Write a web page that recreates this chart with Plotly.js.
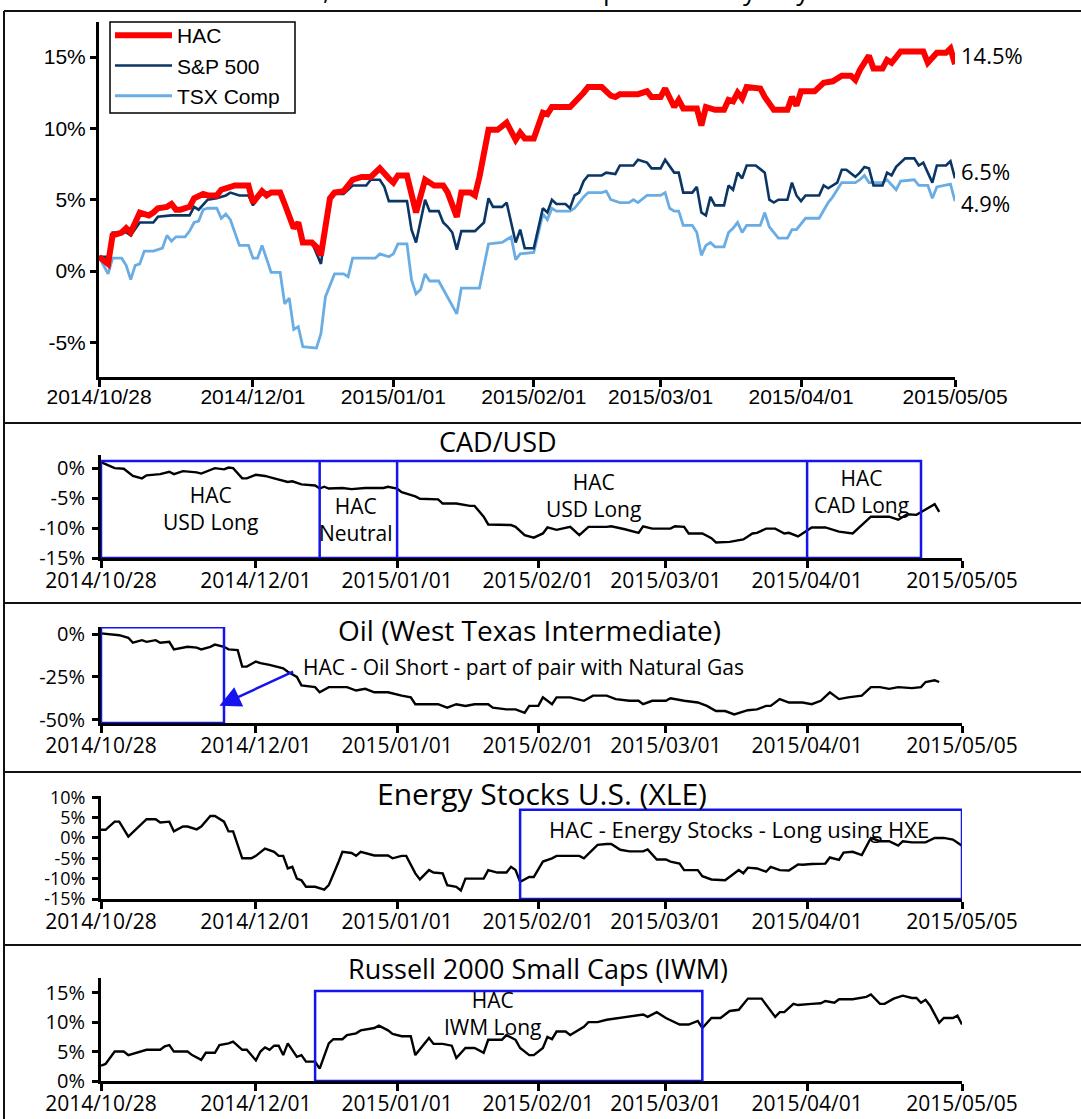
<!DOCTYPE html>
<html><head><meta charset="utf-8">
<script src="https://cdn.plot.ly/plotly-3.0.1.min.js"></script>
<style>html,body{margin:0;padding:0;background:#fff}#chart{width:1081px;height:1119px}</style>
</head><body><div id="chart"></div>
<script>
// ---- data (x = trading day offset from 2014-10-28, y = % change) ----
const startDate = '2014-10-28';
const endDate = '2015-05-05';
const tickDates = ['2014-10-28','2014-12-01','2015-01-01','2015-02-01','2015-03-01','2015-04-01','2015-05-05'];
const tickLabels = ['2014/10/28','2014/12/01','2015/01/01','2015/02/01','2015/03/01','2015/04/01','2015/05/05'];

const seriesNames = ['HAC','S&P 500','TSX Comp'];
const endLabels = ['14.5%','6.5%','4.9%'];

const hacPts = [[0,1.0],[2,0.5],[3,2.5],[5,2.7],[6,3.0],[7,2.7],[9,4.1],[11,3.9],[12,4.1],[13,4.4],[15,4.5],[16,4.7],[17,4.3],[18,4.3],[20,4.5],[21,5.1],[23,5.4],[24,5.3],[26,5.3],[27,5.7],[28,5.8],[30,6.0],[33,6.0],[34,4.8],[36,5.6],[37,5.3],[38,5.5],[40,5.5],[41,4.7],[43,3.0],[44,3.4],[45,2.0],[47,2.0],[48,1.7],[49,1.1],[51,5.1],[52,5.5],[54,5.6],[56,6.4],[58,6.6],[60,6.6],[62,7.2],[64,6.5],[65,6.2],[66,6.7],[68,6.7],[70,4.1],[72,6.4],[74,6.0],[76,6.0],[77,5.5],[79,3.8],[80,5.5],[82,5.5],[83,5.3],[84,6.6],[86,9.9],[88,9.9],[90,10.4],[92,9.2],[93,9.7],[94,9.3],[96,9.3],[98,11.1],[99,11.0],[100,11.5],[104,11.5],[106,12.1],[107,12.5],[108,12.9],[111,12.9],[113,12.3],[114,12.2],[115,12.4],[119,12.4],[121,12.6],[122,12.2],[124,12.2],[125,12.8],[127,11.5],[128,12.0],[129,11.4],[132,11.4],[133,10.2],[134,11.5],[136,11.3],[138,11.3],[139,12.0],[140,11.9],[141,12.5],[142,12.1],[143,12.9],[146,12.8],[147,12.2],[149,11.3],[152,11.3],[153,12.2],[154,11.6],[155,12.6],[158,12.6],[160,13.2],[162,13.3],[164,13.7],[166,13.7],[167,13.4],[168,14.1],[170,15.1],[171,14.2],[173,14.2],[174,14.8],[175,14.6],[177,15.4],[180,15.4],[181,15.3],[182,15.4],[183,14.6],[185,15.3],[187,15.3],[188,15.6],[189,14.5]];

const spPts = [[0,1.0],[2,1.0],[3,2.7],[6,2.7],[7,2.5],[9,3.4],[12,3.4],[13,3.8],[16,3.9],[20,3.9],[21,4.5],[22,4.3],[24,5.0],[26,5.1],[28,5.3],[29,5.5],[31,5.3],[33,5.3],[34,4.6],[36,5.6],[37,5.5],[40,5.6],[41,4.6],[43,3.1],[44,3.4],[45,2.0],[47,2.0],[49,0.5],[51,5.0],[52,5.4],[54,5.4],[56,6.0],[59,6.0],[60,6.4],[62,6.4],[63,5.9],[64,4.9],[68,4.9],[69,2.9],[70,2.0],[72,5.0],[73,4.2],[75,4.2],[76,3.4],[77,3.1],[78,2.7],[79,1.5],[80,2.8],[83,2.8],[85,3.4],[86,5.1],[87,4.5],[89,4.5],[90,4.8],[92,2.0],[93,2.9],[94,1.6],[96,1.6],[98,4.4],[99,4.1],[100,5.0],[101,4.7],[103,4.7],[104,4.4],[105,5.3],[106,5.5],[107,6.3],[108,6.7],[111,6.7],[112,6.9],[114,6.8],[115,7.4],[118,7.4],[119,7.8],[121,7.6],[122,7.2],[124,7.2],[125,7.8],[127,6.9],[128,6.9],[129,5.5],[131,5.5],[132,5.9],[133,4.1],[134,3.9],[135,5.2],[136,4.6],[138,4.6],[139,6.0],[140,5.7],[141,6.9],[142,6.5],[143,7.4],[145,7.4],[147,6.9],[148,5.0],[149,4.8],[150,5.0],[152,5.0],[153,6.2],[154,5.3],[155,4.9],[156,5.3],[159,5.3],[160,6.0],[161,5.8],[163,6.2],[164,7.1],[165,7.1],[167,6.6],[168,6.9],[169,7.3],[170,7.2],[171,6.0],[173,6.0],[174,6.9],[175,6.7],[176,7.3],[178,7.9],[180,7.9],[181,7.4],[182,7.6],[184,6.2],[185,7.4],[187,7.4],[188,7.7],[189,6.5]];

const tsxPts = [[0,1.0],[2,-0.2],[3,0.9],[5,0.9],[6,0.4],[7,-0.6],[8,0.4],[9,0.5],[10,1.4],[12,1.4],[14,1.6],[15,2.5],[16,2.1],[17,2.4],[19,2.4],[20,2.8],[21,3.4],[22,3.5],[23,4.3],[24,4.4],[26,4.4],[27,3.7],[28,4.0],[29,3.6],[31,1.8],[33,1.8],[34,0.9],[35,0.9],[36,1.8],[38,-0.1],[40,-0.1],[41,-2.3],[42,-1.9],[43,-4.1],[44,-3.9],[45,-5.3],[48,-5.4],[49,-4.4],[50,-1.8],[52,-0.2],[54,-0.2],[55,-0.4],[56,0.9],[61,0.9],[62,1.2],[64,1.0],[65,1.2],[66,1.9],[68,1.9],[69,-0.6],[70,-1.6],[71,-1.3],[72,-0.2],[73,-0.7],[75,-0.7],[76,-1.3],[77,-1.8],[79,-3.0],[80,-1.2],[84,-1.2],[86,1.9],[89,2.0],[91,2.4],[92,0.8],[93,1.2],[96,1.3],[98,4.0],[99,3.6],[100,4.4],[101,4.2],[104,4.2],[105,4.4],[107,5.2],[108,5.5],[111,5.5],[112,5.6],[113,5.0],[115,4.8],[117,4.8],[118,5.0],[119,4.8],[121,5.3],[124,5.3],[125,5.5],[126,4.4],[127,4.2],[128,4.2],[129,3.2],[131,3.2],[132,2.7],[133,1.1],[134,1.8],[135,2.0],[136,1.7],[138,1.7],[139,2.7],[140,3.0],[141,3.4],[142,2.7],[143,3.2],[146,3.2],[147,4.1],[148,3.1],[150,2.3],[152,2.3],[153,2.9],[154,2.9],[156,3.7],[159,3.7],[161,4.8],[162,5.2],[164,6.2],[167,6.2],[168,6.4],[169,6.7],[170,6.2],[173,6.2],[174,6.4],[176,5.7],[177,6.3],[180,6.4],[181,6.0],[183,6.0],[184,5.1],[185,5.9],[187,6.0],[188,6.1],[189,4.9]];

const cadPts = [[0,1.0],[3,0.0],[5,-0.1],[7,-1.3],[9,-1.7],[10,-1.2],[13,-1.0],[15,-0.6],[16,-1.0],[18,-0.5],[21,-0.7],[22,-0.9],[25,0.0],[27,-0.2],[28,0.1],[29,0.0],[31,-1.7],[32,-1.7],[34,-1.1],[36,-1.3],[38,-1.7],[39,-1.9],[41,-2.3],[42,-2.2],[44,-2.7],[47,-2.9],[48,-3.4],[49,-3.1],[50,-3.4],[53,-3.3],[55,-3.5],[58,-3.3],[62,-3.3],[63,-3.1],[65,-3.4],[66,-4.0],[69,-4.7],[70,-5.1],[72,-5.2],[74,-5.2],[75,-5.9],[78,-5.9],[81,-6.3],[82,-6.3],[84,-8.1],[85,-9.4],[90,-9.5],[91,-9.8],[93,-11.2],[95,-11.6],[97,-10.9],[98,-9.9],[100,-10.3],[101,-10.1],[103,-9.8],[105,-11.2],[107,-9.8],[111,-9.8],[112,-9.7],[115,-10.2],[118,-10.8],[119,-9.7],[121,-10.1],[125,-10.1],[126,-9.7],[128,-9.8],[129,-10.9],[132,-10.9],[134,-11.7],[135,-12.4],[138,-12.3],[141,-11.9],[143,-10.9],[144,-10.8],[146,-10.1],[148,-10.1],[150,-10.9],[151,-10.8],[153,-11.4],[154,-10.9],[156,-9.9],[159,-9.9],[162,-10.6],[165,-10.9],[167,-9.5],[169,-8.1],[173,-8.1],[175,-8.6],[177,-7.7],[179,-7.8],[181,-6.9],[183,-6.0],[184,-7.3]];

const oilPts = [[0,0.5],[2,0],[4,-0.6],[6,-2.1],[7,-5],[9,-3.5],[10,-4.5],[12,-3.5],[13,-5],[15,-4.5],[16,-8.9],[19,-7.4],[21,-7.9],[22,-8.9],[24,-7.4],[25,-6.1],[27,-7.4],[28,-8.9],[30,-9.3],[31,-19],[32,-19],[34,-16],[35,-17],[37,-18],[38,-18.6],[40,-20],[41,-22],[43,-25],[44,-30],[47,-31],[48,-34],[50,-31],[52,-31],[54,-31],[56,-33],[58,-32],[60,-34],[63,-34],[66,-36],[68,-37],[69,-41],[72,-41],[74,-41],[76,-43],[78,-41],[80,-42],[82,-41],[85,-41],[86,-43],[89,-44],[91,-44],[93,-46],[94,-42],[96,-42],[97,-37],[99,-41],[100,-37],[103,-37],[106,-39],[108,-36],[111,-36],[113,-38],[116,-39],[118,-39],[119,-41],[121,-39],[124,-39],[125,-37.5],[128,-39],[131,-40],[133,-42],[135,-45],[137,-45],[139,-47],[142,-44.5],[144,-44],[146,-42],[147,-42],[149,-38],[151,-40],[154,-40],[156,-41],[158,-39],[160,-34],[162,-38],[164,-37],[167,-36],[169,-31],[171,-31],[173,-32],[175,-31],[178,-31.6],[180,-31],[181,-28],[183,-27],[184,-28]];

const xlePts = [[0,2.0],[1,2.0],[3,4.0],[4,4.0],[6,0.3],[8,2.4],[10,4.6],[12,4.6],[13,3.8],[15,4.0],[16,1.6],[18,2.8],[19,2.8],[21,2.1],[22,2.8],[24,5.4],[25,5.4],[27,4.0],[28,1.6],[29,1.6],[31,-5.0],[33,-5.0],[34,-4.4],[36,-2.6],[38,-3.4],[39,-4.4],[40,-4.4],[41,-7.5],[42,-7.1],[43,-10],[44,-10.4],[45,-12],[47,-12],[49,-12.7],[50,-11.6],[52,-6.3],[53,-3.4],[55,-3.7],[56,-4.4],[57,-3.4],[59,-4.0],[60,-4.3],[63,-4.3],[64,-5.0],[66,-4.4],[67,-4.4],[69,-8.7],[70,-10.2],[72,-7.9],[73,-8.5],[75,-8.7],[76,-11.6],[78,-12.0],[79,-12.9],[80,-10],[82,-10],[84,-10],[85,-7.9],[87,-8.5],[89,-8.5],[90,-7.1],[91,-7.9],[92,-10.8],[94,-9.6],[95,-9.6],[97,-5.8],[99,-5.0],[100,-4.4],[102,-4.4],[105,-4.4],[106,-5.0],[109,-1.7],[111,-1.5],[112,-1.5],[114,-2.9],[116,-3.3],[119,-3.3],[120,-2.8],[122,-5.3],[124,-5.3],[125,-5.8],[127,-6.3],[128,-7.9],[131,-7.9],[132,-9.4],[134,-10.2],[137,-10.4],[138,-9.6],[140,-7.9],[141,-8.7],[142,-7.3],[144,-7.5],[146,-8.3],[147,-7.1],[149,-7.9],[151,-8.0],[153,-6.5],[154,-6.6],[156,-6.4],[159,-6.3],[160,-4.8],[162,-5.4],[163,-3.6],[165,-3.4],[167,-4.2],[169,0.0],[171,-0.8],[173,-0.8],[175,-1.9],[176,-0.8],[178,-1.1],[181,-1.1],[183,0.0],[185,0.0],[187,-0.4],[189,-1.9]];

const iwmPts = [[0,2.6],[1,2.9],[3,5.0],[5,5.0],[6,4.4],[9,5.0],[10,5.3],[13,5.3],[14,5.9],[15,6.1],[16,5.0],[19,5.0],[20,4.4],[22,3.6],[23,4.8],[25,4.8],[26,6.1],[28,6.4],[29,6.7],[31,5.3],[32,5.3],[34,3.5],[35,5.0],[36,5.7],[37,5.3],[38,6.0],[39,6.0],[40,4.4],[41,6.4],[43,4.1],[44,4.4],[45,3.3],[47,3.3],[48,2.1],[49,4.4],[50,6.4],[51,7.1],[53,7.1],[54,7.8],[56,8.1],[57,8.6],[59,8.8],[60,9.0],[61,9.4],[63,8.6],[64,8.0],[66,7.6],[68,7.6],[69,4.4],[72,7.3],[73,6.3],[75,6.3],[77,6.0],[78,3.9],[80,5.6],[82,5.6],[84,4.8],[85,7.0],[88,7.0],[89,7.8],[91,7.0],[92,5.6],[94,4.4],[95,4.4],[97,5.6],[98,7.5],[99,7.1],[100,8.4],[102,8.4],[103,7.8],[106,9.2],[107,10.0],[109,10.0],[111,10.4],[113,10.6],[116,10.9],[119,11.3],[120,10.9],[122,11.7],[124,10.7],[127,9.6],[129,9.6],[131,10.2],[132,9.0],[134,10.7],[136,10.7],[138,11.9],[140,12.1],[142,14.0],[145,14.0],[147,11.9],[148,10.9],[149,11.7],[150,11.7],[152,13.1],[153,12.9],[156,13.1],[158,13.2],[159,13.6],[161,13.3],[162,13.9],[165,13.9],[168,14.3],[169,14.7],[171,13.1],[172,13.1],[174,14.0],[176,14.5],[178,14.1],[179,14.1],[180,13.3],[181,13.8],[182,12.8],[184,9.9],[185,10.7],[187,10.7],[188,11.1],[189,9.6]];

// position periods (HAC calls)
const cadPeriodDates = ['2014-10-28','2014-12-15','2015-01-01','2015-04-01','2015-04-26'];
const cadPeriodLabels = ['HAC<br>USD Long','HAC<br>Neutral','HAC<br>USD Long','HAC<br>CAD Long'];
const oilPeriod = ['2014-10-28','2014-11-24'];
const oilLabel = 'HAC - Oil Short - part of pair with Natural Gas';
const xlePeriod = ['2015-01-28','2015-05-05'];
const xleLabel = 'HAC - Energy Stocks - Long using HXE';
const iwmPeriod = ['2014-12-14','2015-03-09'];
const iwmLabel = 'HAC<br>IWM Long';
const panelTitles = ['CAD/USD','Oil (West Texas Intermediate)','Energy Stocks U.S. (XLE)','Russell 2000 Small Caps (IWM)'];

// ---- helpers ----
const DAY = 86400000;
const t0 = Date.UTC(2014,9,28);
function dayToDate(n){ return new Date(t0 + n*DAY).toISOString().slice(0,10); }
function xs(p){ return p.map(a => dayToDate(a[0])); }
function ys(p){ return p.map(a => a[1]); }
const W = 1081, H = 1119;
const px = v => v / W;
const py = v => (H - v) / H;

const topFont = 'Liberation Sans, Arial, sans-serif';
const lowFont = 'Open Sans, sans-serif';
const RED = '#ff0000', NAVY = '#0b3564', LIGHT = '#6aade4', BLUE = '#1414f0';

const traces = [
  {x: xs(hacPts), y: ys(hacPts), name: seriesNames[0], mode:'lines', line:{color:RED, width:6}, xaxis:'x', yaxis:'y', legendrank:1},
  {x: xs(spPts), y: ys(spPts), name: seriesNames[1], mode:'lines', line:{color:NAVY, width:2.6}, xaxis:'x', yaxis:'y', legendrank:2},
  {x: xs(tsxPts), y: ys(tsxPts), name: seriesNames[2], mode:'lines', line:{color:LIGHT, width:2.8}, xaxis:'x', yaxis:'y', legendrank:3},
  {x: xs(cadPts), y: ys(cadPts), mode:'lines', line:{color:'#000', width:2.4}, xaxis:'x2', yaxis:'y2', showlegend:false},
  {x: xs(oilPts), y: ys(oilPts), mode:'lines', line:{color:'#000', width:2.4}, xaxis:'x3', yaxis:'y3', showlegend:false},
  {x: xs(xlePts), y: ys(xlePts), mode:'lines', line:{color:'#000', width:2.4}, xaxis:'x4', yaxis:'y4', showlegend:false},
  {x: xs(iwmPts), y: ys(iwmPts), mode:'lines', line:{color:'#000', width:2.4}, xaxis:'x5', yaxis:'y5', showlegend:false}
];
const ordered = [traces[2], traces[1], traces[0], traces[3], traces[4], traces[5], traces[6]];

function xax(domain, anchor, font, fs, standoff){
  return {domain: domain, anchor: anchor, type:'date', range:[startDate, endDate],
    tickvals: tickDates, ticktext: tickLabels, showline:true, linewidth:3, linecolor:'#000',
    ticks:'outside', ticklen:7, tickwidth:3, tickcolor:'#000', showgrid:false, zeroline:false,
    ticklabelstandoff: standoff,
    tickfont:{family:font, size:fs, color:'#000'}, fixedrange:true};
}
function yax(domain, anchor, range, vals, font, fs, standoff){
  return {domain: domain, anchor: anchor, range: range, tickvals: vals, ticktext: vals.map(v => v + '%'),
    showline:true, linewidth:3, linecolor:'#000', ticks:'outside', ticklen:6, tickwidth:3, tickcolor:'#000',
    ticklabelstandoff: standoff,
    showgrid:false, zeroline:false, tickfont:{family:font, size:fs, color:'#000'}, fixedrange:true};
}

const topX = [px(99), px(955)];
const lowX = [px(101), px(962)];

const layout = {
  width: W, height: H, margin:{l:0,r:0,t:0,b:0}, paper_bgcolor:'#fff', plot_bgcolor:'rgba(0,0,0,0)',
  showlegend:true,
  legend:{x:px(110), y:py(15), xanchor:'left', yanchor:'top', bgcolor:'rgba(0,0,0,0)', borderwidth:0,
    font:{family:topFont, size:21, color:'#000'}, itemwidth:57, tracegroupgap:0, traceorder:'normal'},
  xaxis: xax(topX, 'y', topFont, 21, -8),
  yaxis: yax([py(377), py(22)], 'x', [-7.43, 17.46], [-5,0,5,10,15], topFont, 21, 0),
  xaxis2: xax(lowX, 'y2', lowFont, 21, -5),
  yaxis2: yax([py(558), py(455)], 'x2', [-15, 2.2], [0,-5,-10,-15], lowFont, 20, 3),
  xaxis3: xax(lowX, 'y3', lowFont, 21, -5),
  yaxis3: yax([py(723), py(627)], 'x3', [-52, 4.2], [0,-25,-50], lowFont, 20, 3),
  xaxis4: xax(lowX, 'y4', lowFont, 21, -5),
  yaxis4: yax([py(899), py(796)], 'x4', [-15, 10.3], [10,5,0,-5,-10,-15], lowFont, 18, 3),
  xaxis5: xax(lowX, 'y5', lowFont, 21, -5),
  yaxis5: yax([py(1081), py(978)], 'x5', [0, 17.5], [15,10,5,0], lowFont, 20, 3),
  shapes: [], annotations: []
};

// frame lines between panels
[11, 423, 603, 772, 945].forEach(v => layout.shapes.push({type:'line', xref:'paper', yref:'paper',
  x0:px(4), x1:1, y0:py(v), y1:py(v), line:{color:'#111', width:2}}));
layout.shapes.push({type:'line', xref:'paper', yref:'paper', x0:px(4), x1:px(4), y0:0, y1:py(11), line:{color:'#111', width:2}});
// legend frame
layout.shapes.push({type:'rect', xref:'paper', yref:'paper', x0:px(110), x1:px(295), y0:py(113), y1:py(22),
  fillcolor:'#fff', line:{color:'#000', width:1.5}, layer:'above'});

// period boxes
const boxLine = {color:BLUE, width:2.5};
layout.shapes.push({type:'rect', xref:'x2', yref:'y2', x0:cadPeriodDates[0], x1:cadPeriodDates[4], y0:-15, y1:1.2, line:boxLine});
[1,2,3].forEach(i => layout.shapes.push({type:'line', xref:'x2', yref:'y2', x0:cadPeriodDates[i], x1:cadPeriodDates[i], y0:-15, y1:1.2, line:boxLine}));
layout.shapes.push({type:'rect', xref:'x3', yref:'y3', x0:oilPeriod[0], x1:oilPeriod[1], y0:-52, y1:4.0, line:boxLine});
layout.shapes.push({type:'rect', xref:'x4', yref:'y4', x0:xlePeriod[0], x1:xlePeriod[1], y0:-15, y1:6.9, line:boxLine});
layout.shapes.push({type:'rect', xref:'x5', yref:'y5', x0:iwmPeriod[0], x1:iwmPeriod[1], y0:0, y1:15.3, line:boxLine});

const A = layout.annotations;
const lowTxt = {family:lowFont, size:21, color:'#000'};

// chart title (cropped at the top edge, only its descenders show)
A.push({xref:'paper', yref:'paper', x:0.5, y:1, xanchor:'center', yanchor:'middle', yshift:10,
  text:'HAC, S&P 500 and TSX Comp Returns by Day', showarrow:false, font:{family:lowFont, size:26, color:'#000'}});

// top-panel end labels
const ends = [hacPts, spPts, tsxPts];
const endShift = [9, 7, -2];
ends.forEach((p, i) => A.push({xref:'paper', yref:'y', x:px(959), y:p[p.length-1][1], xanchor:'left', yanchor:'middle',
  yshift:endShift[i], text:endLabels[i], showarrow:false, font:{family:lowFont, size:22, color:'#000'}}));

// panel titles
const titleY = [442, 630, 793, 968];
const titleX = [498, 529, 542, 538];
const titleSize = [27, 28, 30, 27];
panelTitles.forEach((t, i) => A.push({xref:'paper', yref:'paper', x:px(titleX[i]), y:py(titleY[i]), xanchor:'center', yanchor:'middle',
  text:t, showarrow:false, font:{family:lowFont, size:titleSize[i], color:'#000'}}));

// CAD period labels
const cadLabelPos = [['2014-11-21',-6.7],['2014-12-23',-8.6],['2015-02-13',-4.5],['2015-04-13',-3.9]];
cadPeriodLabels.forEach((t, i) => A.push({xref:'x2', yref:'y2', x:cadLabelPos[i][0], y:cadLabelPos[i][1], xanchor:'center', yanchor:'middle',
  text:t, showarrow:false, font:lowTxt}));

// Oil label + arrow
A.push({xref:'x3', yref:'y3', x:'2014-12-11', y:-19.2, xanchor:'left', yanchor:'middle', text:oilLabel, showarrow:false, font:lowTxt});
A.push({xref:'x3', yref:'y3', x:'2014-11-23', y:-41.9, axref:'x3', ayref:'y3', ax:'2014-12-09 12:00', ay:-21.5, text:'',
  showarrow:true, arrowhead:2, arrowsize:1.7, arrowwidth:2.5, arrowcolor:BLUE, standoff:0, startstandoff:0});
// XLE label
A.push({xref:'x4', yref:'y4', x:'2015-03-17', y:2.2, xanchor:'center', yanchor:'middle', text:xleLabel, showarrow:false,
  font:{family:lowFont, size:22, color:'#000'}});
// IWM label
A.push({xref:'x5', yref:'y5', x:'2015-01-22', y:11.4, xanchor:'center', yanchor:'middle', text:iwmLabel, showarrow:false, font:lowTxt});

Plotly.newPlot('chart', ordered, layout, {displayModeBar:false, staticPlot:true});
</script></body></html>
